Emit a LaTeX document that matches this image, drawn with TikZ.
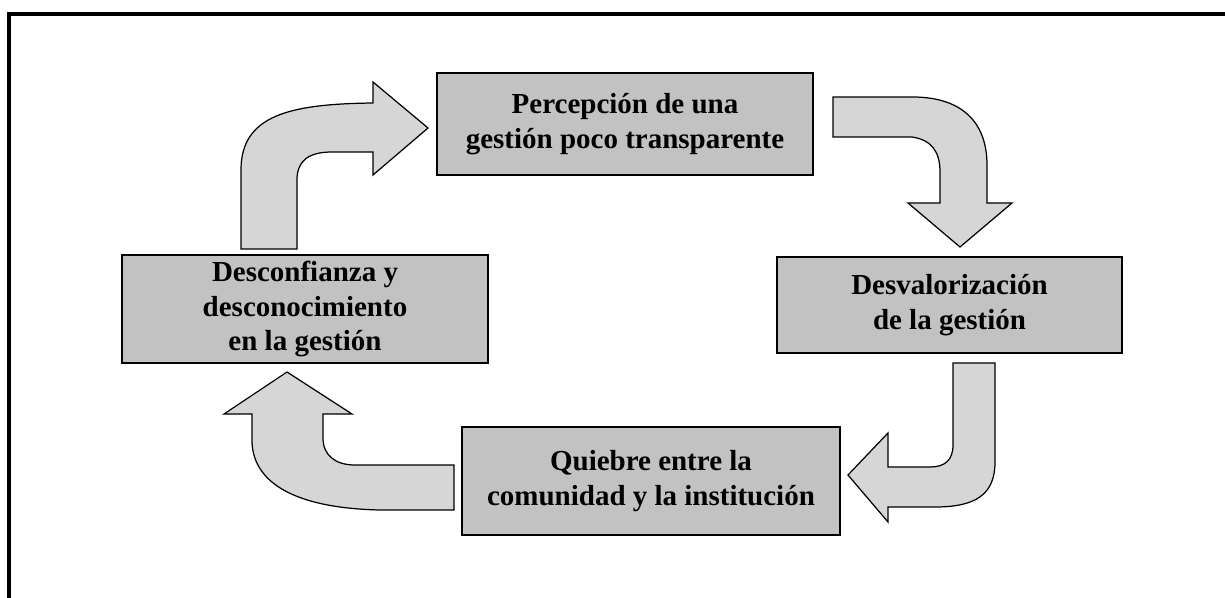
\documentclass[tikz,border=0pt]{standalone}
\usepackage{fontspec}
\setmainfont{Liberation Serif}
\tikzset{
  box/.style={draw, line width=.8pt, fill=black!24, align=center,
    font=\fontsize{16.5}{19.8}\selectfont\bfseries, inner sep=0pt},
  blockarrow/.style={draw, line width=.7pt, fill=black!16, line join=miter}
}

\begin{document}
\begin{tikzpicture}[x=.02cm, y=-.02cm]
      \useasboundingbox (0, 0) rectangle (1225, 598);
      % frame
      \draw[line width=2.3pt] (9, 598) -- (9, 14) -- (1225, 14);
      % boxes
      \node[box, minimum width=7.52cm, minimum height=2.04cm] (percep) at (625, 124)
        {Percepción de una\\gestión poco transparente};
      \node[box, minimum width=6.9cm, minimum height=1.92cm] (desval) at (949.5, 305)
        {Desvalorización\\de la gestión};
      \node[box, minimum width=7.56cm, minimum height=2.16cm] (quiebre) at (651, 481)
        {Quiebre entre la\\comunidad y la institución};
      \node[box, minimum width=7.32cm, minimum height=2.16cm] (desconf) at (305, 309)
        {Desconfianza y\\desconocimiento\\en la gestión};
      % arrows
      \draw[blockarrow] (241, 249) -- (241, 170)
        .. controls (241, 115) and (290, 104) .. (373, 103) -- (373, 82)
        -- (428, 128) -- (373, 175) -- (373, 152) -- (332, 152)
        .. controls (307, 152) and (297, 162) .. (297, 180) -- (297, 249) -- cycle;
      \draw[blockarrow] (833, 97) -- (915, 97)
        .. controls (965, 98) and (987, 125) .. (987, 165) -- (987, 203)
        -- (1012, 203) -- (960, 247) -- (908, 203) -- (940, 203) -- (940, 172)
        .. controls (940, 152) and (932, 140) .. (912, 137) -- (833, 137) -- cycle;
      \draw[blockarrow] (953, 363) -- (995, 363) -- (995, 462)
        .. controls (995, 495) and (975, 507) .. (935, 507) -- (888, 507)
        -- (888, 522) -- (848, 475) -- (888, 433) -- (888, 467) -- (930, 467)
        .. controls (945, 467) and (953, 460) .. (953, 445) -- cycle;
      \draw[blockarrow] (454, 465) -- (454, 510) -- (380, 510)
        .. controls (290, 508) and (252, 480) .. (252, 440) -- (252, 414)
        -- (224, 414) -- (287, 372) -- (352, 414) -- (323, 414) -- (323, 438)
        .. controls (323, 455) and (335, 465) .. (355, 465) -- cycle;
    \end{tikzpicture}
\end{document}
